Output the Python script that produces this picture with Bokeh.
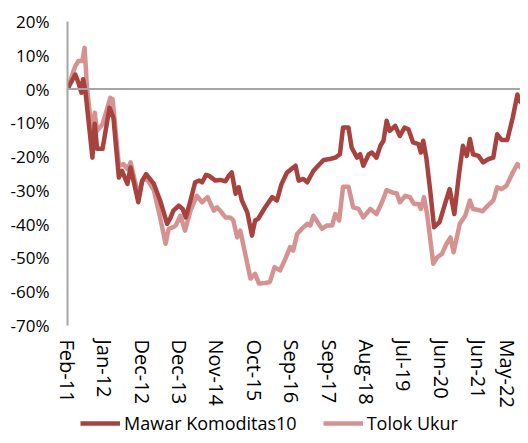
from bokeh.plotting import figure
from bokeh.layouts import column
from bokeh.models import Span, Legend, LegendItem, FixedTicker, Range1d
from bokeh.embed import file_html
from bokeh.resources import INLINE

# weekly index (week 0 = Feb-11)
mawar_week = [0, 10, 14, 18, 20, 23, 32, 35, 38, 45, 54, 59, 66, 70, 77, 81, 91, 96, 101, 111,
              119, 128, 132, 136, 143, 148, 152, 158, 164, 169, 173, 178, 182, 190, 196, 203, 207,
              211, 216, 220, 224, 231, 237, 241, 245, 254, 263, 269, 275, 282, 286, 293, 297, 303,
              308, 316, 322, 329, 337, 344, 350, 354, 361, 365, 372, 376, 380, 387, 391, 397, 402,
              406, 410, 414, 421, 427, 433, 438, 444, 451, 454, 457, 461, 466, 471, 478, 485, 491,
              497, 503, 508, 513, 517, 521, 528, 534, 541, 547, 552, 558, 565, 572, 578, 581, 585]
mawar_val = [0, 4.3, 1.9, -1.1, 2.9, -0.6, -20.3, -10.3, -17.7, -17.7, -5.5, -8.5, -26.2, -24.2,
             -28.1, -23.2, -33.5, -27.1, -25.2, -28.1, -33.0, -39.9, -38.3, -36.0, -34.5, -35.5,
             -38.0, -33.0, -27.6, -27.1, -27.6, -25.4, -25.7, -27.1, -26.9, -27.3, -25.7, -24.7,
             -31.0, -29.1, -33.0, -36.5, -43.4, -38.9, -38.4, -35.0, -32.0, -33.0, -28.1, -24.7,
             -24.0, -22.7, -27.1, -26.6, -27.6, -24.2, -22.7, -21.0, -20.7, -20.3, -19.3, -11.4,
             -11.4, -17.3, -20.3, -19.3, -22.7, -19.3, -18.8, -20.3, -16.8, -15.3, -9.4, -12.4,
             -10.9, -13.9, -11.4, -11.9, -15.8, -16.3, -18.8, -15.3, -20.3, -30.1, -40.9, -39.4,
             -34.0, -29.6, -37.0, -25.2, -16.8, -19.8, -14.8, -19.3, -19.8, -21.7, -20.7, -20.3,
             -13.4, -15.1, -15.1, -8.5, -1.6, -3.5, -4.5]

tolok_week = [0, 10, 14, 19, 22, 25, 32, 35, 38, 45, 55, 58, 66, 72, 77, 81, 91, 96, 102, 111,
              119, 126, 130, 136, 139, 145, 151, 158, 166, 173, 180, 188, 192, 198, 203, 209, 213,
              218, 222, 235, 241, 246, 254, 260, 266, 273, 280, 286, 290, 295, 301, 308, 312, 316,
              320, 327, 333, 340, 344, 349, 354, 361, 367, 374, 380, 389, 397, 404, 410, 417, 423,
              427, 434, 440, 445, 451, 454, 458, 462, 470, 475, 481, 487, 492, 496, 504, 511, 517,
              521, 528, 533, 540, 547, 552, 558, 564, 571, 578, 583]
tolok_val = [0, 6.8, 8.3, 8.3, 12.2, 0.4, -14.4, -7.0, -12.4, -10.4, -2.6, -3.0, -22.7, -22.2,
             -23.7, -21.7, -31.6, -27.1, -26.6, -30.0, -38.0, -45.8, -41.4, -40.9, -40.4, -37.5,
             -41.9, -36.0, -31.6, -33.5, -32.0, -36.0, -35.0, -36.5, -38.0, -38.0, -38.9, -43.9,
             -41.9, -56.1, -54.7, -57.6, -57.4, -57.1, -52.7, -53.7, -50.2, -46.8, -47.8, -42.9,
             -41.4, -39.9, -40.4, -37.5, -38.9, -41.4, -40.4, -40.4, -37.0, -38.9, -28.9, -28.9,
             -35.0, -35.5, -38.0, -35.5, -37.0, -33.5, -29.9, -30.6, -30.9, -33.5, -31.6, -32.0,
             -34.0, -34.0, -35.5, -32.0, -37.0, -51.7, -49.8, -48.8, -45.8, -43.9, -48.3, -39.9,
             -37.5, -33.0, -35.5, -35.8, -36.2, -34.5, -33.0, -29.1, -29.6, -28.6, -25.2, -22.2,
             -23.4]

tick_weeks = [0, 48, 96, 144, 192, 240, 288, 336, 384, 432, 480, 528, 576]
tick_labels = ["Feb-11", "Jan-12", "Dec-12", "Dec-13", "Nov-14", "Oct-15", "Sep-16",
               "Sep-17", "Aug-18", "Jul-19", "Jun-20", "Jun-21", "May-22"]
y_ticks = [20, 10, 0, -10, -20, -30, -40, -50, -60, -70]

series_names = ["Mawar Komoditas10", "Tolok Ukur"]
DARK = "#A8423F"
LIGHT = "#D69290"
GRAY = "#A6A6A6"
FONT = "Open Sans"

p = figure(width=520, height=410, output_backend="svg", toolbar_location=None,
           x_range=Range1d(0, 582), y_range=Range1d(-70, 20),
           min_border_left=67, min_border_right=0, min_border_top=21, min_border_bottom=83)
p.outline_line_color = None
p.grid.visible = False
p.background_fill_color = "white"

r2 = p.line(tolok_week, tolok_val, line_color=LIGHT, line_width=4.5, line_join="round")
r1 = p.line(mawar_week, mawar_val, line_color=DARK, line_width=4.5, line_join="round")

p.add_layout(Span(location=0, dimension="width", line_color=GRAY, line_width=2))

# x axis
xa = p.xaxis[0]
xa.ticker = FixedTicker(ticks=tick_weeks)
xa.major_label_overrides = {w: l for w, l in zip(tick_weeks, tick_labels)}
xa.major_label_orientation = "vertical"
xa.axis_line_color = None
xa.major_tick_line_color = None
xa.minor_tick_line_color = None
xa.major_tick_out = 0
xa.major_label_standoff = 14
xa.major_label_text_font = FONT
xa.major_label_text_font_size = "20px"
xa.major_label_text_color = "#000000"

# y axis
ya = p.yaxis[0]
ya.ticker = FixedTicker(ticks=y_ticks)
ya.major_label_overrides = {v: f"{v}%" for v in y_ticks}
ya.axis_line_color = GRAY
ya.axis_line_width = 2
ya.major_tick_line_color = None
ya.minor_tick_line_color = None
ya.major_tick_out = 0
ya.major_label_standoff = 18
ya.major_label_text_font = FONT
ya.major_label_text_font_size = "17px"
ya.major_label_text_color = "#000000"

# legend strip: a separate figure holding only the legend (its lines lie outside its view)
pl = figure(width=520, height=25, output_backend="svg", toolbar_location=None,
            x_range=Range1d(0, 582), y_range=Range1d(1000, 1001),
            x_axis_location=None, y_axis_location=None,
            min_border_left=0, min_border_right=0, min_border_top=0, min_border_bottom=0)
pl.outline_line_color = None
pl.grid.visible = False
k1 = pl.line(mawar_week, mawar_val, line_color=DARK, line_width=4.5)
k2 = pl.line(tolok_week, tolok_val, line_color=LIGHT, line_width=4.5)

legend = Legend(items=[LegendItem(label=series_names[0], renderers=[k1]),
                       LegendItem(label=series_names[1], renderers=[k2])],
                orientation="horizontal", location=(13, 0),
                glyph_width=40, glyph_height=20, label_standoff=4, spacing=26,
                padding=0, margin=0, border_line_color=None, background_fill_alpha=0,
                label_text_font=FONT, label_text_font_size="18px", label_text_color="#000000")
pl.add_layout(legend)

layout = column(p, pl, spacing=0)
open("out.html", "w").write(file_html(layout, INLINE))
